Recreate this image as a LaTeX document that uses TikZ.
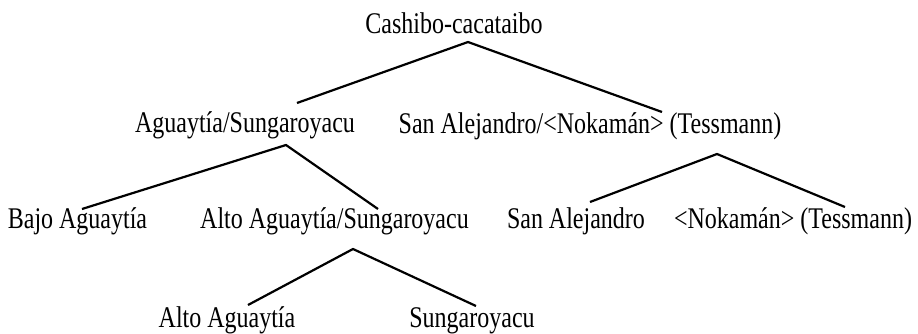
\documentclass[tikz,border=0pt]{standalone}
\usepackage{fontspec}
\setmainfont{Liberation Serif}[FakeStretch=0.80]
\begin{document}
\begin{tikzpicture}[x=0.5pt,y=-0.5pt,
  lbl/.style={anchor=base,inner sep=0pt,font=\fontsize{15pt}{17pt}\selectfont},
  branch/.style={draw=black,line width=1.1pt}]
\useasboundingbox (0,0) rectangle (918,333);
% texts
\node[lbl] (root) at (454,33) {Cashibo-cacataibo};
\node[lbl] (as) at (245,132) {Aguaytía/Sungaroyacu};
\node[lbl] (san) at (590,133) {San Alejandro/<Nokamán> (Tessmann)};
\node[lbl] (bajo) at (77.5,228) {Bajo Aguaytía};
\node[lbl] (altos) at (334.5,228) {Alto Aguaytía/Sungaroyacu};
\node[lbl] (sanal) at (576,228) {San Alejandro};
\node[lbl] (nok) at (793,228) {<Nokamán> (Tessmann)};
\node[lbl] (alto) at (227,327) {Alto Aguaytía};
\node[lbl] (sung) at (472,327) {Sungaroyacu};
% branch points
\coordinate (root-b) at (468,42);
\coordinate (as-t) at (297,103);
\coordinate (san-t) at (662,112);
\coordinate (as-b) at (286,145);
\coordinate (bajo-t) at (82,209);
\coordinate (altos-t) at (378,209);
\coordinate (san-b) at (717,154);
\coordinate (sanal-t) at (590,202);
\coordinate (nok-t) at (845,207);
\coordinate (altos-b) at (353,249);
\coordinate (alto-t) at (248,305);
\coordinate (sung-t) at (476,306);
% connectors
\draw[branch] (as-t) -- (root-b) -- (san-t);
\draw[branch] (bajo-t) -- (as-b) -- (altos-t);
\draw[branch] (sanal-t) -- (san-b) -- (nok-t);
\draw[branch] (alto-t) -- (altos-b) -- (sung-t);
\end{tikzpicture}
\end{document}
